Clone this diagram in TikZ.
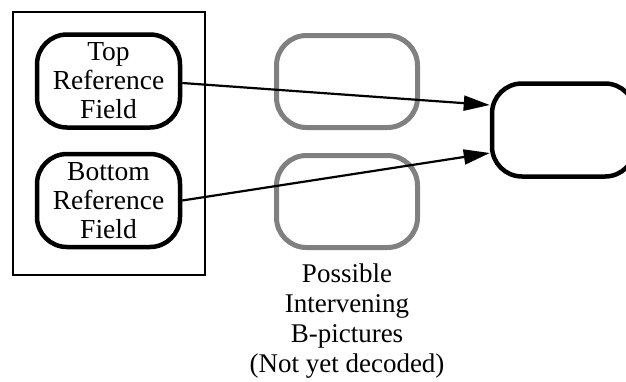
\documentclass[tikz,border=0pt]{standalone}
\usepackage{fontspec}
\setmainfont{Liberation Serif}
\usetikzlibrary{arrows.meta}
\begin{document}
\begin{tikzpicture}[x=1pt,y=-1pt,
  fieldbox/.style={draw=black,line width=4.5pt,rounded corners=30pt,minimum width=143pt,minimum height=93pt,align=center,inner sep=0pt,font=\fontsize{27.5}{29}\selectfont},
  graybox/.style={draw=gray,line width=5pt,rounded corners=30pt,minimum width=141pt,minimum height=92pt,inner sep=0pt},
  conn/.style={line width=2.2pt,-{Triangle[length=26pt,width=15pt]}}]
\useasboundingbox (0,0) rectangle (626,381);
\node[draw=black,line width=2pt,minimum width=192pt,minimum height=263pt,inner sep=0pt] (frame) at (108.5,143) {};
\node[fieldbox] (top) at (108.5,81) {Top\\Reference\\Field};
\node[fieldbox] (bot) at (108.5,200.5) {Bottom\\Reference\\Field};
\node[graybox] (g1) at (347,81.5) {};
\node[graybox] (g2) at (347,201.5) {};
\node[fieldbox] (cur) at (563.5,130) {};
\node[anchor=north,inner sep=0pt,align=center,font=\fontsize{27}{30}\selectfont] (lbl) at (347,264) {Possible\\Intervening\\B-pictures\\(Not yet decoded)};
\draw[conn] ([yshift=-2pt]top.east) -- ([yshift=25pt]cur.west);
\draw[conn] (bot.east) -- ([yshift=-23pt]cur.west);
\end{tikzpicture}
\end{document}
